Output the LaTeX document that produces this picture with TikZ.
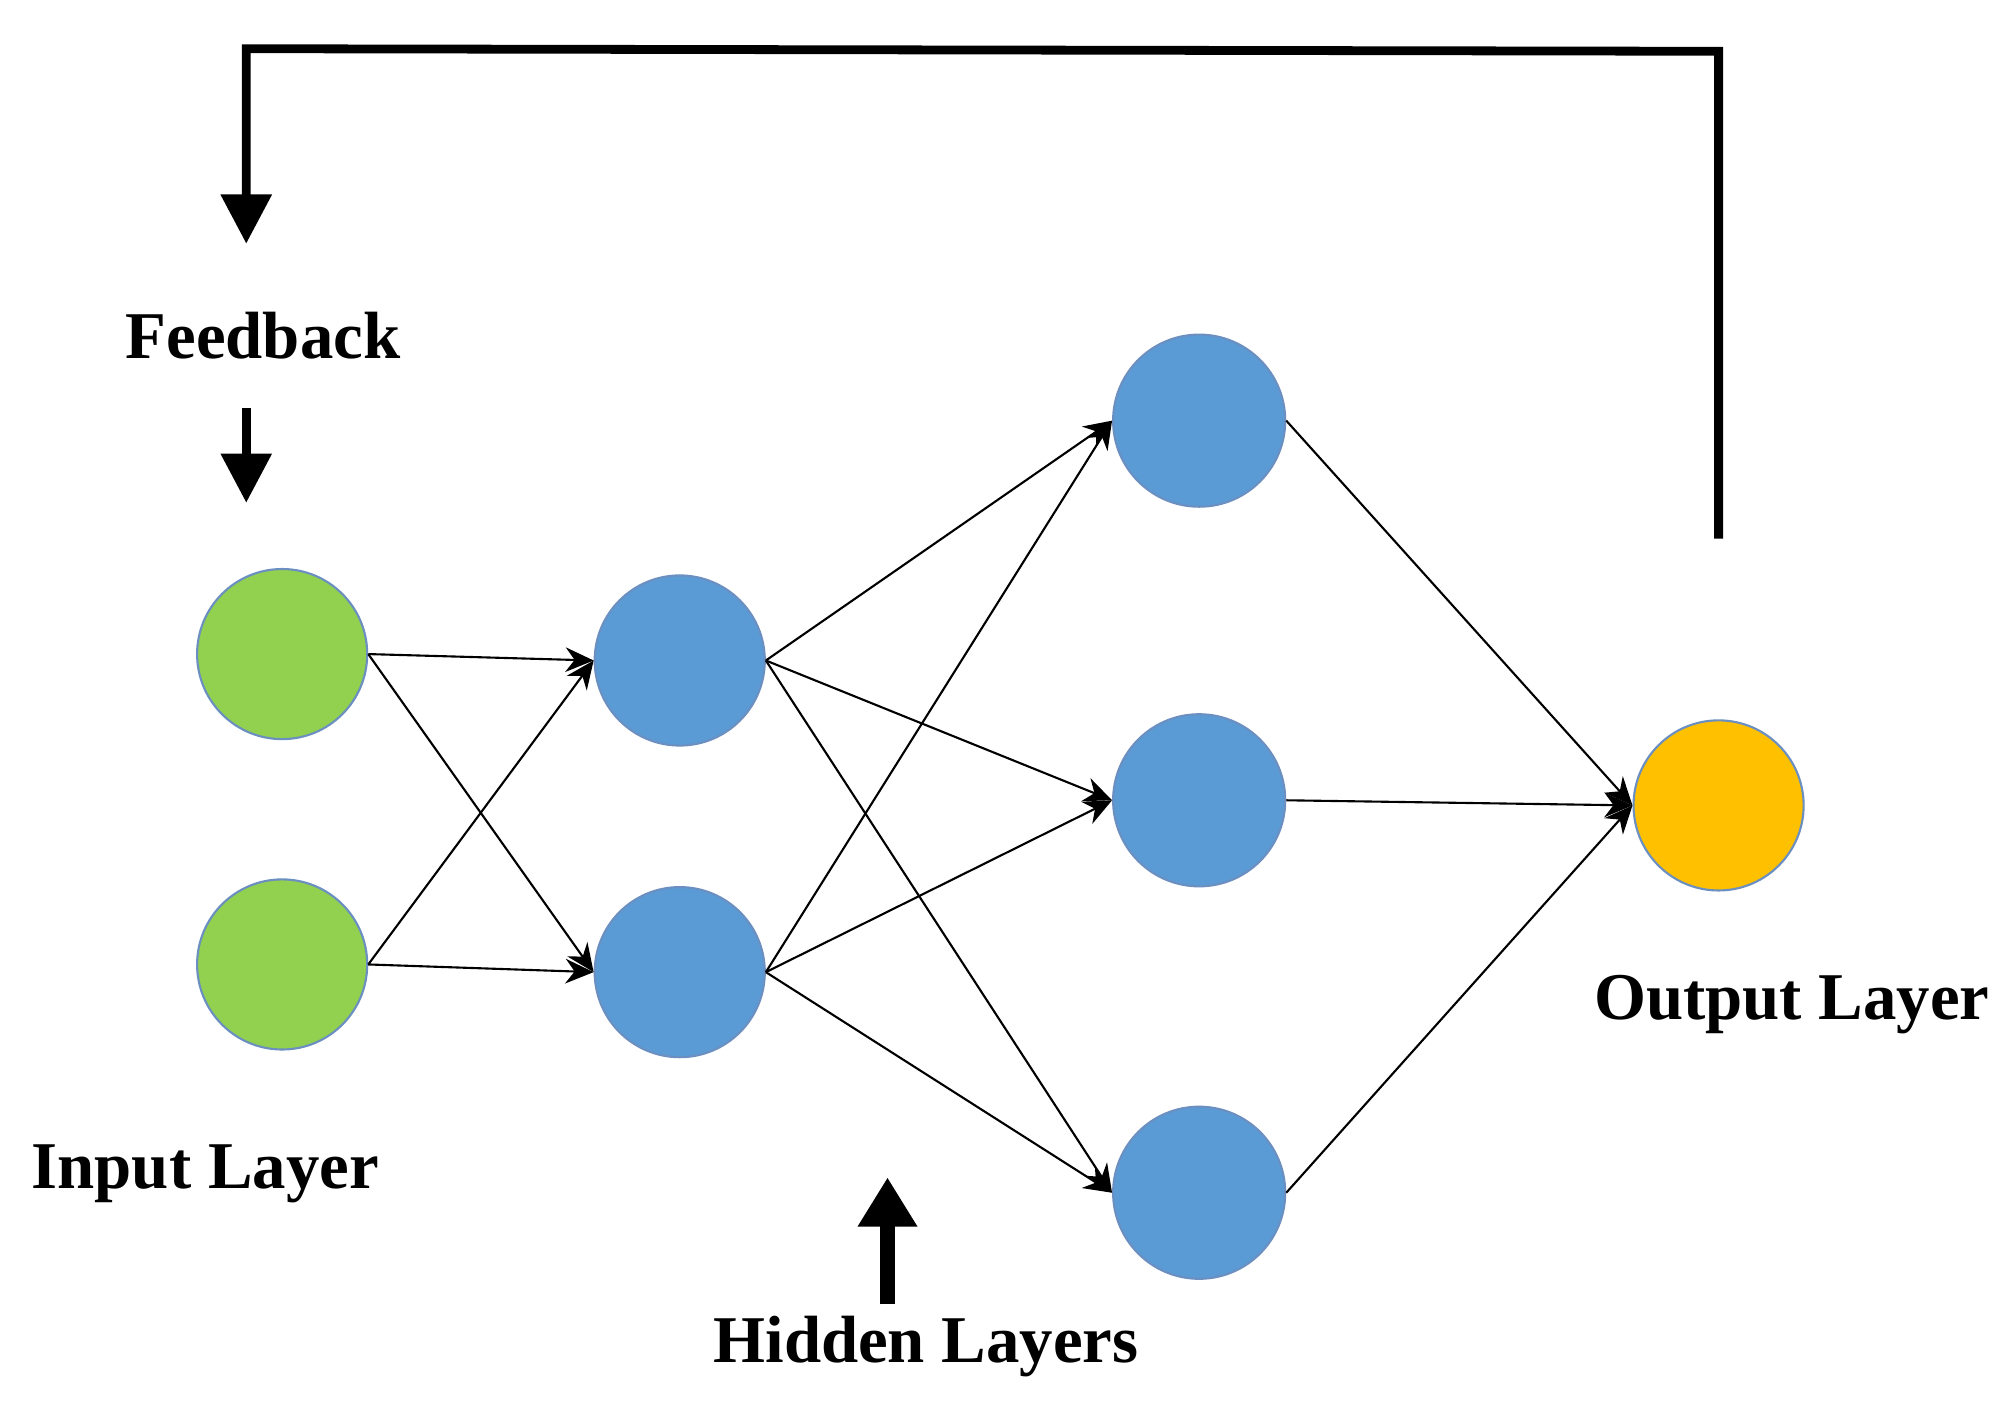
\documentclass[tikz,border=0pt]{standalone}
\usepackage{fontspec}
\setmainfont{Liberation Serif}
\usetikzlibrary{arrows.meta}
\definecolor{ig}{HTML}{92D050}
\definecolor{hb}{HTML}{5B9BD5}
\definecolor{oy}{HTML}{FFC000}
\definecolor{bd}{HTML}{6A8FC0}
\begin{document}
\begin{tikzpicture}[x=0.012825cm,y=-0.012825cm,
  neu/.style={ellipse,draw=bd,line width=0.6pt,minimum width=133\pgflinewidth,inner sep=0pt},
  n/.style={circle,draw=bd,line width=0.6pt,inner sep=0pt,minimum size=1.7cm},
  e/.style={-{Stealth[length=8pt,width=7pt]},line width=0.6pt},
  fb/.style={line width=2.5pt},
  lab/.style={font=\bfseries\fontsize{19}{22}\selectfont}]
\useasboundingbox (0,0) rectangle (1568,1103);
\node[n,fill=ig] (i1) at (220,510) {};
\node[n,fill=ig] (i2) at (220,752) {};
\node[n,fill=hb] (a1) at (530,515) {};
\node[n,fill=hb] (a2) at (530,758) {};
\node[n,fill=hb,minimum size=1.72cm] (b1) at (935,328) {};
\node[n,fill=hb,minimum size=1.72cm] (b2) at (935,624) {};
\node[n,fill=hb,minimum size=1.72cm] (b3) at (935,930) {};
\node[n,fill=oy] (o) at (1340,628) {};
\foreach \s in {i1,i2} \foreach \t in {a1,a2} \draw[e] (\s.east) -- (\t.west);
\foreach \s in {a1,a2} \foreach \t in {b1,b2,b3} \draw[e] (\s.east) -- (\t.west);
\foreach \s in {b1,b2,b3} \draw[e] (\s.east) -- (o.west);
\coordinate (f0) at (1340,420);
\coordinate (f1) at (1340,40);
\coordinate (f2) at (192,38);
\coordinate (f3) at (192,190);
\draw[fb,-{Triangle[length=14pt,width=14pt]}] (f0) -- (f1) -- (f2) -- (f3);
\node[lab] (fbt) at (205,262) {Feedback};
\coordinate (g0) at (192,318);
\coordinate (g1) at (192,392);
\draw[fb,-{Triangle[length=14pt,width=14pt]}] (g0) -- (g1);
\node[lab] (il) at (160,915) {Input Layer};
\node[lab] (hl) at (722,1050) {Hidden Layers};
\coordinate (h0) at (692,1017);
\coordinate (h1) at (692,918);
\draw[line width=4pt,-{Triangle[length=14pt,width=16pt]}] (h0) -- (h1);
\node[lab] (ol) at (1397,783) {Output Layer};
\end{tikzpicture}
\end{document}
